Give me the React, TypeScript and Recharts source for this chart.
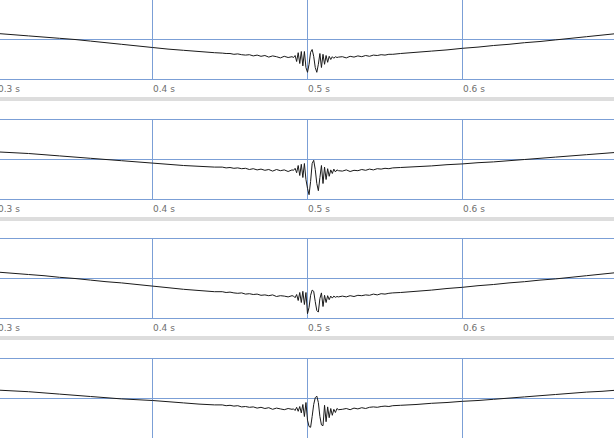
import { CartesianGrid, Line, LineChart, XAxis, YAxis } from "recharts";

// sample times (s) shared by all four channels; denser around the burst at 0.5 s
const times = [
    0.30, 0.31, 0.32, 0.33, 0.34, 0.35, 0.36, 0.37, 0.38, 0.39, 0.40, 0.41, 0.42, 0.43, 0.44,
    0.445, 0.4475, 0.45, 0.4525, 0.455, 0.4575, 0.46, 0.4625, 0.465, 0.4675, 0.47, 0.4725, 0.475, 0.4775, 0.48, 0.4825, 0.485, 0.4875, 0.49,
    0.491, 0.492, 0.493, 0.494, 0.495, 0.496, 0.497, 0.498, 0.499, 0.500, 0.501, 0.502, 0.503, 0.504, 0.505,
    0.506, 0.507, 0.508, 0.509, 0.510, 0.511, 0.512, 0.513, 0.514, 0.515, 0.516, 0.517, 0.518, 0.519, 0.520,
    0.5225, 0.525, 0.5275, 0.53, 0.5325, 0.535, 0.5375, 0.54, 0.5425, 0.545, 0.5475, 0.55, 0.5525, 0.555,
    0.56, 0.57, 0.58, 0.59, 0.60, 0.61, 0.62, 0.63, 0.64, 0.65, 0.66, 0.67, 0.68, 0.69, 0.70,
];

const channel1 = [
    0.15, 0.12, 0.09, 0.06, 0.03, 0.00, -0.04, -0.08, -0.12, -0.16, -0.20, -0.24, -0.27, -0.30, -0.33,
    -0.34, -0.35, -0.35, -0.37, -0.36, -0.38, -0.39, -0.38, -0.41, -0.39, -0.42, -0.40, -0.44, -0.41, -0.43, -0.46, -0.42, -0.45, -0.43,
    -0.45, -0.40, -0.55, -0.33, -0.60, -0.30, -0.66, -0.30, -0.70, -0.82, -0.62, -0.32, -0.25, -0.42, -0.70,
    -0.82, -0.62, -0.35, -0.70, -0.37, -0.62, -0.40, -0.57, -0.42, -0.50, -0.43, -0.47, -0.43, -0.45, -0.44,
    -0.43, -0.46, -0.42, -0.44, -0.41, -0.43, -0.40, -0.42, -0.39, -0.40, -0.38, -0.39, -0.37, -0.37,
    -0.35, -0.32, -0.29, -0.26, -0.22, -0.19, -0.15, -0.12, -0.08, -0.05, -0.01, 0.03, 0.07, 0.11, 0.15,
];

const channel2 = [
    0.19, 0.17, 0.15, 0.12, 0.09, 0.06, 0.03, 0.00, -0.03, -0.06, -0.09, -0.12, -0.15, -0.17, -0.19,
    -0.19, -0.21, -0.20, -0.22, -0.21, -0.23, -0.22, -0.25, -0.23, -0.26, -0.24, -0.27, -0.25, -0.29, -0.25, -0.28, -0.26, -0.30, -0.26,
    -0.27, -0.22, -0.33, -0.15, -0.40, -0.12, -0.45, -0.10, -0.50, -0.72, -0.88, -0.55, -0.10, -0.02, -0.25,
    -0.60, -0.78, -0.45, -0.15, -0.60, -0.19, -0.50, -0.23, -0.42, -0.26, -0.35, -0.24, -0.31, -0.26, -0.28,
    -0.29, -0.26, -0.30, -0.27, -0.28, -0.25, -0.27, -0.24, -0.26, -0.23, -0.24, -0.22, -0.23, -0.21,
    -0.20, -0.18, -0.16, -0.13, -0.11, -0.08, -0.06, -0.03, 0.00, 0.03, 0.06, 0.09, 0.12, 0.15, 0.18,
];

const channel3 = [
    0.16, 0.13, 0.10, 0.07, 0.03, 0.00, -0.04, -0.08, -0.11, -0.15, -0.19, -0.23, -0.27, -0.30, -0.33,
    -0.33, -0.35, -0.34, -0.36, -0.37, -0.36, -0.39, -0.38, -0.40, -0.39, -0.42, -0.41, -0.43, -0.41, -0.45, -0.43, -0.44, -0.46, -0.43,
    -0.44, -0.48, -0.40, -0.55, -0.35, -0.60, -0.32, -0.65, -0.35, -0.88, -0.72, -0.42, -0.29, -0.32, -0.58,
    -0.80, -0.84, -0.50, -0.36, -0.70, -0.42, -0.60, -0.43, -0.53, -0.44, -0.49, -0.44, -0.47, -0.45, -0.46,
    -0.44, -0.46, -0.43, -0.45, -0.42, -0.43, -0.41, -0.42, -0.39, -0.41, -0.38, -0.39, -0.37, -0.36,
    -0.35, -0.32, -0.29, -0.25, -0.22, -0.18, -0.15, -0.11, -0.08, -0.04, -0.01, 0.03, 0.07, 0.11, 0.15,
];

const channel4 = [
    0.21, 0.19, 0.17, 0.14, 0.11, 0.08, 0.05, 0.02, -0.01, -0.03, -0.05, -0.08, -0.11, -0.14, -0.16,
    -0.16, -0.18, -0.17, -0.19, -0.18, -0.21, -0.20, -0.22, -0.21, -0.24, -0.22, -0.25, -0.23, -0.27, -0.24, -0.26, -0.28, -0.25, -0.27,
    -0.26, -0.30, -0.22, -0.32, -0.20, -0.36, -0.15, -0.45, -0.10, -0.54, -0.70, -0.72, -0.45, -0.15, 0.02,
    0.06, -0.10, -0.45, -0.66, -0.68, -0.17, -0.58, -0.21, -0.48, -0.25, -0.42, -0.27, -0.35, -0.25, -0.28,
    -0.27, -0.25, -0.28, -0.24, -0.26, -0.23, -0.25, -0.22, -0.21, -0.22, -0.20, -0.19, -0.20, -0.18,
    -0.17, -0.15, -0.12, -0.10, -0.07, -0.05, -0.02, 0.01, 0.04, 0.07, 0.10, 0.13, 0.16, 0.18, 0.21,
];

const channels = [channel1, channel2, channel3, channel4];

const timeTicks = [0.3, 0.4, 0.5, 0.6];
const levelTicks = [-1, 0, 1];

const GRID = '#7b9fd6';

function TimeTick({ x, y, payload }: any) {
    return (
        <text x={x + 0.5} y={y + 12.5} fill="#6e6e6e" fontSize={9} fontFamily="DejaVu Sans">
            {`${payload.value.toFixed(1)} s`}
        </text>
    );
}

function Trace({ values }: { values: number[] }) {
    const data = times.map((t, i) => ({ t, v: values[i] }));
    // the half-pixel margin puts 1px grid lines on whole pixels
    return (
        <LineChart width={620.5} height={100.5} data={data} margin={{ top: 0.5, right: 0, bottom: 0, left: 0.5 }}>
            <CartesianGrid stroke={GRID} strokeWidth={1} />
            <XAxis
                dataKey="t"
                type="number"
                domain={[0.3, 0.7]}
                ticks={timeTicks}
                interval={0}
                height={20}
                axisLine={false}
                tickLine={false}
                tickSize={0}
                tickMargin={0}
                tick={<TimeTick />}
            />
            <YAxis type="number" domain={[-1, 1]} ticks={levelTicks} hide />
            <Line
                type="linear"
                dataKey="v"
                stroke="#1a1a1a"
                strokeWidth={1}
                dot={false}
                activeDot={false}
                isAnimationActive={false} />
        </LineChart>
    );
}

export default function App() {
    return (
        <div style={{ position: 'fixed', left: 0, top: 0, width: 614, height: 438, overflow: 'hidden', background: '#fff' }}>
            {channels.map((values, i) => (
                // rows repeat every ~119.7px
                <div key={i} style={{ position: 'absolute', left: 0, top: Math.round(i * 119.67) - 1, width: 614, height: 120 }}>
                    <div style={{ position: 'absolute', left: -3, top: 0 }}>
                        <Trace values={values} />
                    </div>
                    <div style={{ position: 'absolute', left: 0, top: 98, width: 614, height: 4, background: '#dddddd' }} />
                </div>
            ))}
        </div>
    );
}
